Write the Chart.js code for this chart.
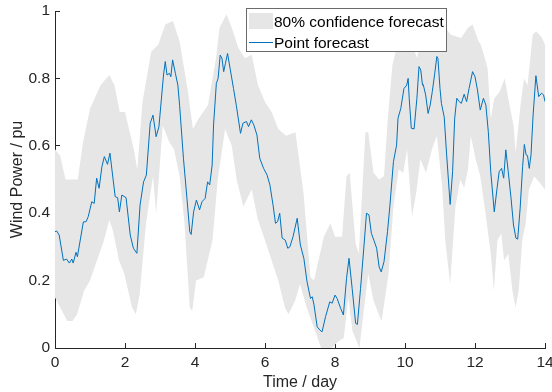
<!DOCTYPE html>
<html>
<head>
<meta charset="utf-8">
<script src="https://cdn.jsdelivr.net/npm/chart.js@4/dist/chart.umd.min.js"></script>
<style>
  html, body { margin: 0; padding: 0; background: #fff; }
  #chart { display: block; }
</style>
</head>
<body>
<canvas id="chart" width="552" height="392"></canvas>
<script>
// Point forecast (day, wind power in pu).
const pointDays = [
    0.00, 0.05, 0.12, 0.24, 0.33, 0.41, 0.48, 0.52, 0.60, 0.64, 0.81, 0.89, 0.95, 1.05, 1.12, 1.19,
    1.26, 1.34, 1.41, 1.50, 1.57, 1.72, 1.79, 1.84, 1.91, 2.03, 2.15, 2.24, 2.34, 2.43, 2.53, 2.61,
    2.72, 2.80, 2.89, 2.97, 3.10, 3.15, 3.20, 3.27, 3.31, 3.36, 3.44, 3.51, 3.56, 3.67, 3.77, 3.85,
    3.89, 3.96, 4.04, 4.13, 4.20, 4.29, 4.36, 4.42, 4.49, 4.53, 4.61, 4.66, 4.72, 4.77, 4.82, 4.87,
    4.93, 5.01, 5.10, 5.18, 5.30, 5.37, 5.47, 5.53, 5.61, 5.68, 5.77, 5.85, 5.96, 6.06, 6.14, 6.23,
    6.30, 6.36, 6.42, 6.49, 6.58, 6.65, 6.71, 6.80, 6.92, 7.01, 7.11, 7.20, 7.30, 7.35, 7.40, 7.49,
    7.57, 7.63, 7.73, 7.85, 7.92, 8.00, 8.06, 8.16, 8.24, 8.33, 8.40, 8.49, 8.59, 8.64, 8.73, 8.83,
    8.90, 8.97, 9.04, 9.11, 9.19, 9.26, 9.32, 9.40, 9.50, 9.57, 9.67, 9.76, 9.80, 9.88, 9.97, 10.05,
    10.09, 10.12, 10.18, 10.26, 10.34, 10.40, 10.45, 10.50, 10.52, 10.59, 10.66, 10.72, 10.78, 10.85, 10.91, 10.94,
    11.00, 11.04, 11.12, 11.19, 11.29, 11.36, 11.42, 11.48, 11.55, 11.61, 11.69, 11.76, 11.83, 11.93, 12.00, 12.07,
    12.15, 12.24, 12.31, 12.38, 12.45, 12.55, 12.63, 12.69, 12.76, 12.82, 12.88, 12.95, 13.03, 13.10, 13.17, 13.22,
    13.29, 13.36, 13.41, 13.46, 13.50, 13.55, 13.60, 13.66, 13.74, 13.82, 13.90, 13.96, 14.00
];
const pointValues = [
    0.345, 0.347, 0.335, 0.26, 0.264, 0.252, 0.264, 0.252, 0.284, 0.271, 0.374, 0.375, 0.39, 0.434, 0.429, 0.504,
    0.474, 0.538, 0.568, 0.545, 0.578, 0.449, 0.446, 0.404, 0.454, 0.446, 0.335, 0.296, 0.281, 0.424, 0.493, 0.513,
    0.667, 0.691, 0.627, 0.657, 0.81, 0.85, 0.81, 0.815, 0.805, 0.855, 0.815, 0.78, 0.72, 0.563, 0.444, 0.345,
    0.337, 0.404, 0.439, 0.41, 0.434, 0.444, 0.493, 0.484, 0.543, 0.662, 0.785, 0.80, 0.869, 0.86, 0.82, 0.845,
    0.874, 0.825, 0.77, 0.72, 0.637, 0.667, 0.672, 0.657, 0.677, 0.662, 0.632, 0.563, 0.533, 0.513, 0.484, 0.424,
    0.37, 0.375, 0.40, 0.326, 0.32, 0.296, 0.30, 0.33, 0.385, 0.306, 0.266, 0.197, 0.147, 0.152, 0.128, 0.063,
    0.053, 0.048, 0.093, 0.137, 0.133, 0.157, 0.147, 0.118, 0.098, 0.207, 0.266, 0.177, 0.073, 0.07, 0.177, 0.306,
    0.40, 0.395, 0.34, 0.32, 0.296, 0.241, 0.226, 0.256, 0.345, 0.424, 0.553, 0.602, 0.682, 0.711, 0.77, 0.78,
    0.80, 0.741, 0.652, 0.65, 0.741, 0.835, 0.825, 0.78, 0.782, 0.751, 0.696, 0.721, 0.761, 0.815, 0.865, 0.86,
    0.77, 0.726, 0.686, 0.573, 0.426, 0.523, 0.682, 0.741, 0.731, 0.726, 0.753, 0.731, 0.77, 0.82, 0.805, 0.766,
    0.706, 0.741, 0.721, 0.642, 0.523, 0.404, 0.474, 0.523, 0.533, 0.504, 0.588, 0.523, 0.444, 0.365, 0.326, 0.323,
    0.415, 0.538, 0.604, 0.573, 0.571, 0.533, 0.573, 0.691, 0.808, 0.746, 0.756, 0.751, 0.731
];

// Upper edge of the 80% band.
const upperDays = [
    0.0, 0.15, 0.3, 0.5, 0.65, 0.8, 1.0, 1.3, 1.55, 1.7, 1.85, 2.0, 2.25, 2.35, 2.5, 2.75,
    2.95, 3.15, 3.37, 3.56, 3.8, 3.94, 4.1, 4.37, 4.6, 4.7, 4.9, 5.05, 5.24, 5.43, 5.62, 5.8,
    6.0, 6.19, 6.38, 6.6, 6.87, 7.1, 7.3, 7.4, 7.68, 7.87, 8.0, 8.2, 8.33, 8.42, 8.59, 8.68,
    8.87, 8.95, 9.1, 9.26, 9.4, 9.5, 9.64, 9.78, 10.0, 10.2, 10.35, 10.5, 10.65, 10.9, 11.1, 11.3,
    11.6, 11.8, 11.93, 12.1, 12.17, 12.36, 12.45, 12.55, 12.7, 12.85, 12.95, 13.1, 13.16, 13.3, 13.4, 13.5,
    13.65, 13.75, 13.92, 14.0
];
const upperValues = [
    0.59, 0.57, 0.50, 0.50, 0.50, 0.61, 0.71, 0.78, 0.81, 0.78, 0.70, 0.70, 0.59, 0.53, 0.73, 0.88,
    0.90, 0.96, 0.97, 0.91, 0.76, 0.65, 0.68, 0.72, 0.86, 0.95, 0.99, 0.95, 0.89, 0.86, 0.87, 0.78,
    0.73, 0.70, 0.65, 0.63, 0.64, 0.46, 0.21, 0.20, 0.33, 0.37, 0.33, 0.33, 0.51, 0.52, 0.31, 0.28,
    0.64, 0.64, 0.52, 0.50, 0.51, 0.67, 0.84, 0.90, 0.92, 0.90, 0.86, 0.97, 0.88, 0.99, 0.96, 0.93,
    0.92, 0.95, 0.96, 0.91, 0.90, 0.83, 0.68, 0.74, 0.76, 0.80, 0.74, 0.66, 0.58, 0.72, 0.80, 0.78,
    0.93, 0.94, 0.92, 0.90
];

// Lower edge of the 80% band.
const lowerDays = [
    0.0, 0.15, 0.35, 0.5, 0.63, 0.83, 1.0, 1.2, 1.4, 1.55, 1.65, 1.83, 1.98, 2.2, 2.31, 2.42,
    2.6, 2.8, 2.89, 3.08, 3.27, 3.4, 3.56, 3.7, 3.85, 3.92, 4.03, 4.25, 4.5, 4.65, 4.86, 5.05,
    5.19, 5.38, 5.62, 5.8, 6.0, 6.19, 6.38, 6.57, 6.67, 6.86, 7.0, 7.19, 7.47, 7.6, 7.9, 8.1,
    8.25, 8.38, 8.5, 8.7, 8.81, 8.95, 9.1, 9.33, 9.53, 9.67, 9.82, 9.95, 10.06, 10.2, 10.32, 10.44,
    10.6, 10.77, 10.91, 11.06, 11.15, 11.29, 11.44, 11.58, 11.69, 11.8, 11.88, 12.02, 12.15, 12.3, 12.45, 12.54,
    12.64, 12.75, 12.83, 12.95, 13.07, 13.16, 13.25, 13.35, 13.45, 13.54, 13.69, 13.85, 14.0
];
const lowerValues = [
    0.15, 0.12, 0.08, 0.08, 0.10, 0.17, 0.20, 0.26, 0.32, 0.38, 0.35, 0.26, 0.22, 0.12, 0.10, 0.16,
    0.37, 0.51, 0.40, 0.66, 0.61, 0.59, 0.51, 0.37, 0.12, 0.11, 0.20, 0.21, 0.32, 0.50, 0.65, 0.60,
    0.50, 0.42, 0.47, 0.38, 0.32, 0.26, 0.20, 0.12, 0.10, 0.14, 0.19, 0.12, 0.04, 0.0, 0.0, 0.02,
    0.03, 0.15, 0.05, 0.0, 0.10, 0.22, 0.14, 0.08, 0.22, 0.42, 0.53, 0.52, 0.59, 0.39, 0.46, 0.56,
    0.52, 0.59, 0.63, 0.48, 0.32, 0.19, 0.42, 0.50, 0.475, 0.53, 0.63, 0.56, 0.51, 0.40, 0.28, 0.17,
    0.32, 0.34, 0.26, 0.28, 0.17, 0.12, 0.17, 0.32, 0.37, 0.47, 0.51, 0.49, 0.47
];

const xTicks = [0, 2, 4, 6, 8, 10, 12, 14];
const yTicks = [0, 0.2, 0.4, 0.6, 0.8, 1];

const legendLabels = ['80% confidence forecast', 'Point forecast'];

const axisColor = '#262626';
const bandColor = '#e6e6e6';
const lineColor = '#0072bd';
const fontFamily = '"Liberation Sans", Arial, Helvetica, sans-serif';

Chart.defaults.font.family = fontFamily;
Chart.defaults.font.size = 15.5;
Chart.defaults.color = axisColor;

function toPoints(xs, ys) {
    return xs.map((x, i) => ({ x: x, y: ys[i] }));
}

// Draws the boxed legend inside the plot, like the original figure.
const boxLegend = {
    id: 'boxLegend',
    afterDraw(chart) {
        const ctx = chart.ctx;
        ctx.save();
        ctx.fillStyle = '#fff';
        ctx.fillRect(246.5, 8.5, 200, 43);
        ctx.strokeStyle = '#6b6b6b';
        ctx.lineWidth = 1;
        ctx.strokeRect(246.5, 8.5, 200, 43);

        ctx.fillStyle = bandColor;
        ctx.fillRect(249, 13, 24, 16);

        ctx.strokeStyle = lineColor;
        ctx.beginPath();
        ctx.moveTo(249, 42.5);
        ctx.lineTo(273, 42.5);
        ctx.stroke();

        ctx.fillStyle = '#000';
        ctx.font = '15.5px ' + fontFamily;
        ctx.textBaseline = 'alphabetic';
        ctx.textAlign = 'left';
        ctx.fillText(legendLabels[0], 274, 26.5);
        ctx.fillText(legendLabels[1], 274, 47.5);
        ctx.restore();
    }
};

const ctx = document.getElementById('chart');
new Chart(ctx, {
    type: 'line',
    data: {
        datasets: [
            {
                label: 'lower',
                data: toPoints(lowerDays, lowerValues),
                borderColor: 'rgba(0,0,0,0)',
                borderWidth: 0,
                pointRadius: 0,
                fill: false,
                order: 1
            },
            {
                label: legendLabels[0],
                data: toPoints(upperDays, upperValues),
                borderColor: 'rgba(0,0,0,0)',
                borderWidth: 0,
                backgroundColor: bandColor,
                pointRadius: 0,
                fill: '-1',
                order: 1
            },
            {
                label: legendLabels[1],
                data: toPoints(pointDays, pointValues),
                borderColor: lineColor,
                borderWidth: 1,
                pointRadius: 0,
                fill: false,
                order: 0
            }
        ]
    },
    options: {
        responsive: false,
        animation: false,
        devicePixelRatio: 1,
        layout: { padding: { left: 0, right: 7, top: 11, bottom: 0 } },
        plugins: {
            legend: { display: false },
            tooltip: { enabled: false }
        },
        elements: { line: { tension: 0 } },
        scales: {
            x: {
                type: 'linear',
                min: 0,
                max: 14,
                afterBuildTicks: axis => { axis.ticks = xTicks.map(v => ({ value: v })); },
                afterFit: axis => { axis.height = 44; axis.paddingLeft = 0; axis.paddingRight = 0; },
                ticks: { padding: 10, color: axisColor, maxRotation: 0, callback: v => String(v) },
                grid: { drawOnChartArea: false, tickLength: -5, color: axisColor },
                border: { color: axisColor, width: 1 },
                title: {
                    display: true, text: 'Time / day', color: axisColor,
                    font: { size: 16 }, padding: { top: 0, bottom: 0 }
                }
            },
            y: {
                min: 0,
                max: 1,
                afterBuildTicks: axis => { axis.ticks = yTicks.map(v => ({ value: v })); },
                afterFit: axis => { axis.width = 55; axis.paddingTop = 0; axis.paddingBottom = 0; },
                ticks: { padding: 10, color: axisColor, callback: v => String(Math.round(v * 10) / 10) },
                grid: { drawOnChartArea: false, tickLength: -5, color: axisColor },
                border: { color: axisColor, width: 1 },
                title: {
                    display: true, text: 'Wind Power / pu', color: axisColor,
                    font: { size: 16 }, padding: { top: 8, bottom: 0 }
                }
            }
        }
    },
    plugins: [boxLegend]
});
</script>
</body>
</html>
